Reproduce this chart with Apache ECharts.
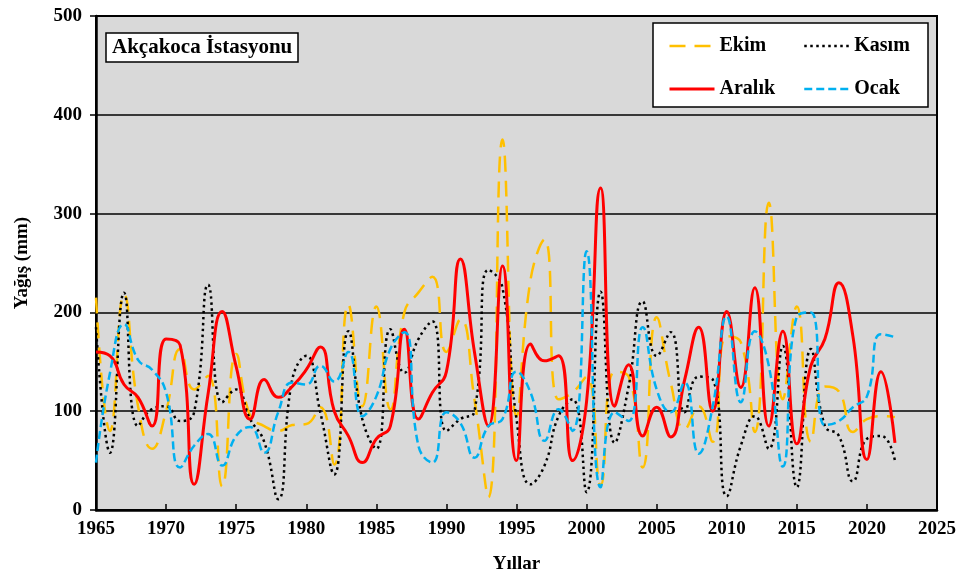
<!DOCTYPE html>
<html>
<head>
<meta charset="utf-8">
<script src="https://cdn.jsdelivr.net/npm/echarts@6/dist/echarts.min.js"></script>
<style>
html,body{margin:0;padding:0;background:#fff;}
#chart{width:959px;height:579px;}
</style>
</head>
<body>
<div id="chart"></div>
<script>
const years = [];
for (let y = 1965; y <= 2022; y++) years.push(y);

const ekim = [215, 80, 218, 105, 62, 100, 163, 122, 136, 24,
  158, 95, 85, 80, 86, 87, 104, 46, 208, 105,
  206, 102, 200, 220, 236, 160, 193, 112, 13, 375,
  95, 233, 274, 112, 119, 135, 25, 140, 135, 43,
  195, 129, 82, 105, 69, 176, 170, 79, 311, 112,
  206, 69, 125, 120, 79, 92, 95, 94];

const kasim = [185, 58, 220, 85, 102, 105, 90, 99, 228, 109,
  122, 92, 69, 11, 132, 156, 99, 36, 181, 92,
  62, 183, 139, 173, 191, 80, 92, 100, 243, 225,
  92, 26, 45, 95, 112, 18, 221, 68, 125, 211,
  156, 180, 99, 135, 132, 14, 65, 95, 62, 166,
  23, 163, 85, 75, 29, 72, 75, 50];

const aralik = [160, 156, 127, 114, 85, 173, 167, 26, 118, 201,
  145, 92, 132, 114, 125, 142, 165, 100, 75, 48,
  72, 85, 183, 92, 119, 140, 254, 160, 85, 247,
  50, 168, 151, 156, 50, 110, 326, 105, 147, 75,
  104, 74, 132, 185, 100, 201, 124, 225, 85, 181,
  67, 146, 173, 230, 176, 51, 140, 68];

const ocak = [48, 139, 188, 152, 142, 119, 43, 65, 77, 45,
  75, 84, 58, 99, 129, 127, 146, 130, 160, 95,
  115, 163, 180, 65, 48, 99, 88, 53, 85, 92,
  140, 119, 70, 102, 80, 262, 23, 99, 90, 185,
  122, 99, 129, 57, 105, 196, 109, 181, 146, 44,
  196, 200, 86, 90, 104, 115, 178, 175];

const seriesNames = ['Ekim', 'Kasım', 'Aralık', 'Ocak'];
const titleText = 'Akçakoca İstasyonu';
const xName = 'Yıllar';
const yName = 'Yağış (mm)';

const pairs = arr => years.map((y, i) => [y, arr[i]]);
const FONT = '"Liberation Serif", "Times New Roman", serif';

const styles = {
  'Ekim':   {color: '#ffc000', width: 2.5, type: [16, 9]},
  'Kasım':  {color: '#000000', width: 2.5, type: [2.5, 3.5]},
  'Aralık': {color: '#ff0000', width: 3, type: 'solid'},
  'Ocak':   {color: '#00b0f0', width: 2.5, type: [8, 4]}
};
const legendItem = n => ({
  name: n,
  itemStyle: {opacity: 0},
  lineStyle: {color: styles[n].color, width: styles[n].width, type: styles[n].type}
});
const legendText = {fontFamily: FONT, fontWeight: 'bold', fontSize: 20, color: '#000'};

const chart = echarts.init(document.getElementById('chart'), null, {renderer: 'canvas'});
chart.setOption({
  backgroundColor: '#ffffff',
  animation: false,
  title: {
    text: titleText,
    left: 106, top: 33,
    padding: [4, 6, 4, 6],
    backgroundColor: '#ffffff',
    borderColor: '#000', borderWidth: 1.5,
    textStyle: {fontFamily: FONT, fontWeight: 'bold', fontSize: 21, color: '#000'}
  },
  graphic: [{
    type: 'rect', z: 10,
    shape: {x: 653, y: 23, width: 275, height: 84},
    style: {fill: '#fff', stroke: '#000', lineWidth: 1.5}
  }],
  legend: [{
    orient: 'vertical', left: 668, top: 36, z: 20,
    itemWidth: 45, itemHeight: 20, itemGap: 23, padding: 0,
    itemStyle: {opacity: 0},
    data: [legendItem(seriesNames[0]), legendItem(seriesNames[2])],
    textStyle: legendText
  }, {
    orient: 'vertical', left: 803, top: 36, z: 20,
    itemWidth: 45, itemHeight: 20, itemGap: 23, padding: 0,
    itemStyle: {opacity: 0},
    data: [legendItem(seriesNames[1]), legendItem(seriesNames[3])],
    textStyle: legendText
  }],
  grid: {
    left: 96, right: 19, top: 16, bottom: 68,
    show: true, backgroundColor: '#d9d9d9', borderColor: '#000', borderWidth: 2
  },
  xAxis: {
    type: 'value', min: 1965, max: 2025, interval: 5,
    name: xName, nameLocation: 'middle', nameGap: 45,
    nameTextStyle: {fontFamily: FONT, fontWeight: 'bold', fontSize: 19, color: '#000'},
    axisLine: {lineStyle: {color: '#000', width: 2.5}},
    axisTick: {inside: true, length: 6, lineStyle: {color: '#000', width: 1.5}},
    axisLabel: {fontFamily: FONT, fontWeight: 'bold', fontSize: 19, color: '#000', margin: 10,
                formatter: v => String(v)},
    splitLine: {show: false}
  },
  yAxis: {
    type: 'value', min: 0, max: 500, interval: 100,
    name: yName, nameLocation: 'middle', nameGap: 64, nameRotate: 90,
    nameTextStyle: {fontFamily: FONT, fontWeight: 'bold', fontSize: 19, color: '#000'},
    axisLine: {show: true, lineStyle: {color: '#000', width: 2.5}},
    axisTick: {show: true, inside: false, length: 6, lineStyle: {color: '#000', width: 1.5}},
    axisLabel: {fontFamily: FONT, fontWeight: 'bold', fontSize: 19, color: '#000', margin: 14},
    splitLine: {show: true, lineStyle: {color: '#000', width: 1.5}}
  },
  series: [
    {name: seriesNames[0], type: 'line', smooth: true, symbol: 'none', z: 2,
     data: pairs(ekim), color: styles['Ekim'].color,
     lineStyle: styles['Ekim']},
    {name: seriesNames[1], type: 'line', smooth: true, symbol: 'none', z: 3,
     data: pairs(kasim), color: styles['Kasım'].color,
     lineStyle: styles['Kasım']},
    {name: seriesNames[2], type: 'line', smooth: true, symbol: 'none', z: 4,
     data: pairs(aralik), color: styles['Aralık'].color,
     lineStyle: styles['Aralık']},
    {name: seriesNames[3], type: 'line', smooth: true, symbol: 'none', z: 5,
     data: pairs(ocak), color: styles['Ocak'].color,
     lineStyle: styles['Ocak']}
  ]
});
</script>
</body>
</html>
